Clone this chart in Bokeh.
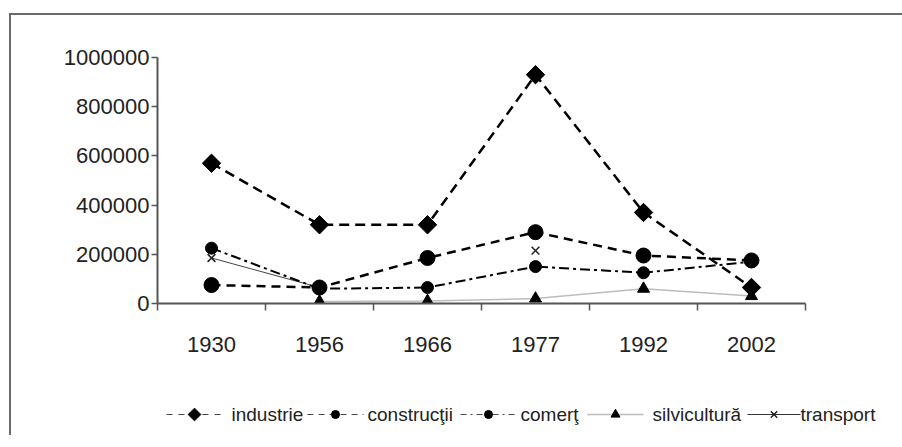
import math
from bokeh.plotting import figure
from bokeh.layouts import column
from bokeh.models import Range1d, FixedTicker, NumeralTickFormatter, Label
from bokeh.embed import file_html
from bokeh.resources import INLINE

categories = ["1930", "1956", "1966", "1977", "1992", "2002"]
industrie = [570000, 320000, 320000, 930000, 370000, 65000]
constructii = [75000, 65000, 185000, 290000, 195000, 175000]
comert = [225000, 60000, 65000, 150000, 125000, 170000]
silvicultura = [float("nan"), 8000, 10000, 20000, 60000, 30000]
transport = [185000, 65000, float("nan"), 215000, float("nan"), float("nan")]
y_ticks = [0, 200000, 400000, 600000, 800000, 1000000]
labels = ["industrie", "construcţii", "comerţ", "silvicultură", "transport"]

xs = list(range(len(categories)))
FONT = "Liberation Sans"
AX = "#555555"

STYLES = {
    "industrie": dict(line=dict(line_color="black", line_width=2.5, line_dash="10 6"),
                      mark=dict(marker="square", angle=math.pi / 4, size=13, color="black"),
                      lmark=dict(marker="square", angle=math.pi / 4, size=9, color="black")),
    "construcţii": dict(line=dict(line_color="black", line_width=2.5, line_dash="9 6"),
                        mark=dict(marker="circle", size=15, color="black"),
                        lmark=dict(marker="circle", size=8, color="black")),
    "comerţ": dict(line=dict(line_color="black", line_width=2, line_dash="10 4 3 4"),
                   mark=dict(marker="circle", size=12, color="black"),
                   lmark=dict(marker="circle", size=8, color="black")),
    "silvicultură": dict(line=dict(line_color="#bdbdbd", line_width=1.5),
                         mark=dict(marker="triangle", size=12, color="black"),
                         lmark=dict(marker="triangle", size=9, color="black")),
    "transport": dict(line=dict(line_color="#444444", line_width=1),
                      mark=dict(marker="x", size=11, line_color="#222222", line_width=1.5),
                      lmark=dict(marker="x", size=9, line_color="#222222", line_width=1.5)),
}
LEG_LINE = {
    "industrie": dict(line_color="#444444", line_width=1.2, line_dash="6 6"),
    "construcţii": dict(line_color="#444444", line_width=1.2, line_dash="6 5"),
    "comerţ": dict(line_color="#444444", line_width=1.2, line_dash="6 4 2 4"),
    "silvicultură": dict(line_color="#bdbdbd", line_width=1.5),
    "transport": dict(line_color="#333333", line_width=1.2),
}
series = {"industrie": industrie, "construcţii": constructii, "comerţ": comert,
          "silvicultură": silvicultura, "transport": transport}

OX, OY = 11, 15  # content origin after wrapper margin + border
W = 891
H1 = 365
H2 = 55
FL, FR = 157, 885      # plot frame left/right on the page (frame extends past the axis end)
PX_PER_CAT = 108       # horizontal pixels per category
x_end = -0.5 + (FR - FL) / PX_PER_CAT

p = figure(width=W, height=H1, output_backend="svg", toolbar_location=None,
           x_range=Range1d(-0.5, x_end), y_range=Range1d(0, 1000000),
           min_border_left=FL - OX, min_border_right=W - (FR - OX),
           min_border_top=57 - OY, min_border_bottom=H1 - (303 - OY))
p.outline_line_color = None
p.xgrid.visible = False
p.ygrid.visible = False

yax = p.yaxis[0]
yax.ticker = FixedTicker(ticks=y_ticks)
yax.formatter = NumeralTickFormatter(format="0")
yax.axis_line_color = AX
yax.axis_line_width = 2
yax.major_tick_line_color = AX
yax.major_tick_line_width = 1.5
yax.major_tick_out = 6
yax.major_tick_in = 0
yax.minor_tick_line_color = None
yax.major_label_standoff = 2
yax.major_label_text_font = FONT
yax.major_label_text_font_size = "22px"
yax.major_label_text_color = "#222222"

xax = p.xaxis[0]
xax.bounds = (-0.5, len(categories) - 0.5)
xax.ticker = FixedTicker(ticks=xs, minor_ticks=[i - 0.5 for i in range(len(categories) + 1)])
xax.major_label_overrides = {i: c for i, c in enumerate(categories)}
xax.axis_line_color = AX
xax.axis_line_width = 2
xax.major_tick_line_color = None
xax.major_tick_out = 0
xax.major_tick_in = 0
xax.minor_tick_line_color = AX
xax.minor_tick_line_width = 1.5
xax.minor_tick_out = 7
xax.minor_tick_in = 0
xax.major_label_standoff = 26
xax.major_label_text_font = FONT
xax.major_label_text_font_size = "22px"
xax.major_label_text_color = "#222222"

draw_order = ["silvicultură", "transport", "comerţ", "construcţii", "industrie"]
for name in draw_order:
    p.line(xs, series[name], **STYLES[name]["line"])
    p.scatter(xs, series[name], **STYLES[name]["mark"])

# legend strip: a separate figure whose frame is aligned with the main one;
# its x range is expressed in page pixels
p2 = figure(width=W, height=H2, output_backend="svg", toolbar_location=None,
            x_axis_location=None, y_axis_location=None,
            x_range=Range1d(FL, FR), y_range=Range1d(0, H2),
            min_border_left=FL - OX, min_border_right=W - (FR - OX),
            min_border_top=0, min_border_bottom=0)
p2.grid.visible = False
p2.outline_line_color = None

leg_glyph_x0 = [166, 307, 460, 587, 747]
leg_glyph_w = [56, 56, 56, 56, 53]
leg_text_x = [231, 367, 520, 652, 800]
leg_cy = H2 - (414 - (OY + H1))
for name, gx, gw, tx in zip(labels, leg_glyph_x0, leg_glyph_w, leg_text_x):
    p2.line([gx, gx + gw], [leg_cy, leg_cy], **LEG_LINE[name])
    p2.scatter([gx + gw / 2], [leg_cy], **STYLES[name]["lmark"])
    p2.add_layout(Label(x=tx, y=leg_cy, text=name, text_font=FONT, text_font_size="19px",
                        text_color="#222222", text_baseline="middle", text_align="left"))

layout = column(p, p2, spacing=0)
layout.styles = {"border-top": "2px solid #6a6a6a", "border-left": "2px solid #6a6a6a",
                 "margin-top": "13px", "margin-left": "9px"}

open("out.html", "w").write(file_html(layout, INLINE))
